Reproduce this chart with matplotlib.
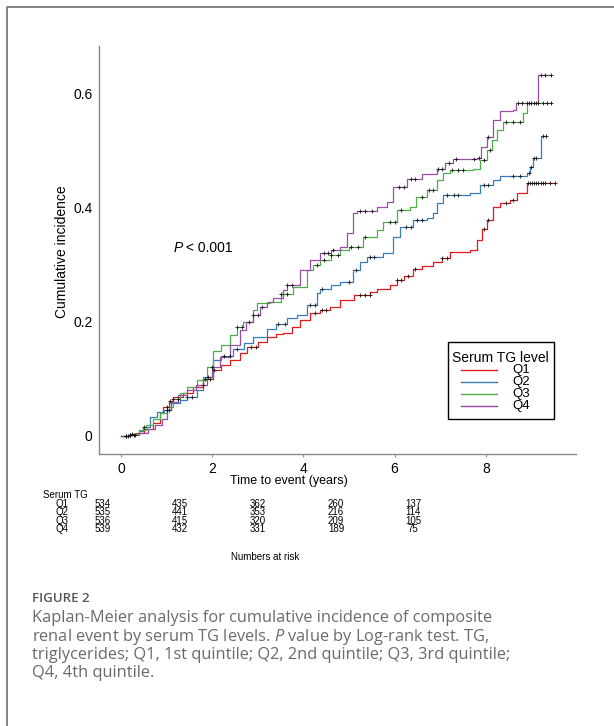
import numpy as np
import matplotlib
matplotlib.use("Agg")
import matplotlib.pyplot as plt
from matplotlib.lines import Line2D
from matplotlib.patches import Rectangle

plt.rcParams['font.family'] = ['Liberation Sans', 'DejaVu Sans']
plt.rcParams['mathtext.fontset'] = 'custom'
plt.rcParams['mathtext.it'] = 'Open Sans:italic'
plt.rcParams['mathtext.rm'] = 'Open Sans'

# ---------------- data ----------------
groups = ["Q1", "Q2", "Q3", "Q4"]
colors = ["#e41a1c", "#377eb8", "#4daf4a", "#984ea3"]

q1_t = [0, 0.15, 0.34, 0.5, 0.71, 0.85, 0.93, 1.05, 1.15, 1.35, 1.59, 1.8, 2.02, 2.2, 2.39, 2.6, 2.76, 3.0, 3.2,
        3.4, 3.56, 3.75, 3.93, 4.15, 4.36, 4.58, 4.8, 5.1, 5.46, 5.61, 5.9, 6.05, 6.2, 6.41, 6.6, 6.85, 7.05, 7.21,
        7.65, 7.8, 7.91, 8.02, 8.16, 8.31, 8.53, 8.68, 8.9, 9.52]
q1_v = [0, 0.002, 0.005, 0.012, 0.022, 0.04, 0.051, 0.062, 0.069, 0.076, 0.086, 0.1, 0.115, 0.124, 0.133, 0.146,
        0.156, 0.165, 0.174, 0.178, 0.18, 0.19, 0.203, 0.215, 0.22, 0.226, 0.238, 0.246, 0.252, 0.258, 0.264, 0.273,
        0.28, 0.293, 0.298, 0.305, 0.312, 0.322, 0.325, 0.343, 0.363, 0.378, 0.401, 0.407, 0.413, 0.425, 0.442, 0.442]

q2_t = [0, 0.2, 0.4, 0.49, 0.64, 0.8, 0.95, 1.1, 1.3, 1.44, 1.66, 1.8, 2.02, 2.2, 2.46, 2.7, 2.9, 3.2, 3.4, 3.63,
        3.85, 4.07, 4.29, 4.36, 4.6, 4.8, 5.09, 5.25, 5.39, 5.75, 5.97, 6.12, 6.41, 6.7, 6.85, 6.92, 7.07, 7.65,
        7.87, 8.16, 8.31, 8.9, 8.97, 9.04, 9.22, 9.33]
q2_v = [0, 0.003, 0.008, 0.016, 0.034, 0.042, 0.045, 0.058, 0.063, 0.068, 0.08, 0.104, 0.133, 0.14, 0.153, 0.163,
        0.174, 0.188, 0.196, 0.206, 0.212, 0.229, 0.25, 0.258, 0.264, 0.27, 0.29, 0.305, 0.314, 0.32, 0.349, 0.366,
        0.378, 0.381, 0.39, 0.407, 0.422, 0.425, 0.439, 0.448, 0.455, 0.46, 0.471, 0.486, 0.525, 0.525]

q3_t = [0, 0.2, 0.4, 0.55, 0.7, 0.85, 1.0, 1.15, 1.29, 1.45, 1.66, 1.88, 2.02, 2.2, 2.39, 2.55, 2.68, 2.9, 2.98,
        3.1, 3.27, 3.5, 3.78, 4.07, 4.2, 4.36, 4.6, 4.8, 5.0, 5.31, 5.61, 5.75, 6.05, 6.34, 6.48, 6.7, 6.92, 7.07,
        7.21, 7.73, 7.87, 8.02, 8.13, 8.24, 8.38, 8.82, 8.9, 9.42]
q3_v = [0, 0.003, 0.01, 0.02, 0.03, 0.04, 0.05, 0.065, 0.075, 0.085, 0.098, 0.121, 0.148, 0.16, 0.177, 0.19, 0.2,
        0.22, 0.232, 0.233, 0.235, 0.248, 0.261, 0.29, 0.3, 0.308, 0.316, 0.325, 0.33, 0.349, 0.36, 0.375, 0.395,
        0.401, 0.419, 0.43, 0.448, 0.46, 0.465, 0.468, 0.483, 0.5, 0.518, 0.535, 0.55, 0.565, 0.582, 0.582]

q4_t = [0, 0.2, 0.4, 0.6, 0.75, 0.9, 1.0, 1.1, 1.25, 1.45, 1.65, 1.88, 2.0, 2.17, 2.4, 2.61, 2.75, 2.9, 3.05, 3.2,
        3.34, 3.56, 3.63, 3.93, 4.14, 4.36, 4.6, 4.8, 4.95, 5.09, 5.17, 5.61, 5.83, 5.97, 6.27, 6.6, 6.92, 7.1,
        7.29, 7.8, 7.9, 8.02, 8.16, 8.31, 8.6, 8.67, 9.15, 9.42]
q4_v = [0, 0.002, 0.006, 0.012, 0.02, 0.03, 0.045, 0.06, 0.072, 0.08, 0.09, 0.104, 0.12, 0.139, 0.16, 0.185, 0.2,
        0.212, 0.225, 0.235, 0.241, 0.255, 0.264, 0.29, 0.308, 0.32, 0.325, 0.331, 0.355, 0.39, 0.394, 0.401, 0.41,
        0.436, 0.449, 0.458, 0.468, 0.478, 0.485, 0.486, 0.505, 0.524, 0.553, 0.569, 0.57, 0.582, 0.632, 0.632]

q1_cens = [0.12, 0.2, 0.28, 1.02, 1.08, 1.85, 1.95, 2.05, 2.85, 2.95, 4.25, 4.4, 4.5, 5.25, 5.35, 5.45, 6.05, 6.15,
           6.3, 6.45, 7.05, 7.15, 7.95, 8.05, 8.45, 8.6, 8.92, 8.98, 9.02, 9.06, 9.1, 9.15, 9.2, 9.25, 9.3, 9.4, 9.52]
q2_cens = [0.15, 0.5, 1.45, 1.55, 2.25, 2.4, 2.55, 3.45, 3.6, 4.15, 4.25, 4.4, 5.0, 5.15, 5.45, 5.55, 6.25, 6.35,
           6.5, 6.6, 7.15, 7.3, 7.4, 7.95, 8.05, 8.6, 8.75, 8.95, 9.0, 9.05, 9.1, 9.25, 9.33]
q3_cens = [0.1, 0.25, 1.15, 1.25, 2.55, 2.65, 2.8, 3.5, 3.65, 4.3, 4.45, 4.6, 4.75, 5.05, 5.2, 5.35, 5.9, 6.0, 6.15,
           6.6, 6.75, 6.85, 7.25, 7.4, 7.5, 7.95, 8.1, 8.45, 8.6, 8.75, 8.95, 9.05, 9.15, 9.25, 9.35, 9.42]
q4_cens = [0.1, 0.2, 0.3, 1.0, 1.05, 1.8, 1.9, 2.0, 2.9, 3.0, 3.1, 3.65, 3.75, 4.45, 4.55, 4.65, 5.25, 5.35, 5.5,
           6.1, 6.2, 6.35, 6.45, 6.95, 7.05, 7.2, 7.35, 7.75, 7.85, 8.05, 8.7, 8.8, 8.9, 9.0, 9.1, 9.2, 9.3, 9.42]

xticks = [0, 2, 4, 6, 8]
yticks = [0, 0.2, 0.4, 0.6]
ytick_labels = ["0", "0.2", "0.4", "0.6"]

risk_times = [0, 2, 4, 6, 8]
risk_q1 = [534, 435, 362, 260, 137]
risk_q2 = [535, 441, 353, 216, 114]
risk_q3 = [536, 415, 320, 209, 105]
risk_q4 = [539, 432, 331, 189, 75]

caption_title = "FIGURE 2"
caption_lines = [
    "Kaplan-Meier analysis for cumulative incidence of composite",
    r"renal event by serum TG levels. $P$ value by Log-rank test. TG,",
    "triglycerides; Q1, 1st quintile; Q2, 2nd quintile; Q3, 3rd quintile;",
    "Q4, 4th quintile.",
]

series = [(q1_t, q1_v, q1_cens), (q2_t, q2_v, q2_cens), (q3_t, q3_v, q3_cens), (q4_t, q4_v, q4_cens)]
risk = [risk_q1, risk_q2, risk_q3, risk_q4]

# ---------------- figure ----------------
W, H = 614, 726
fig = plt.figure(figsize=(W / 100, H / 100), dpi=100)
fig.patch.set_facecolor("white")

ax = fig.add_axes([99 / W, 1 - 454 / H, (576 - 99) / W, (454 - 46) / H])
for (t, v, c), col in zip(series, colors):
    t = np.asarray(t); v = np.asarray(v); c = np.asarray(c)
    ax.step(t, v, where="post", color=col, lw=0.9, zorder=2)
    idx = np.searchsorted(t, c, side="right") - 1
    ax.plot(c, v[idx], linestyle="none", marker="+", ms=3.2, mew=0.6, color="#111111", zorder=3)

ax.set_xlim(-0.482, 9.978)
ax.set_ylim(-0.0315, 0.6824)
ax.set_xticks(xticks)
ax.set_xticklabels([str(x) for x in xticks])
ax.set_yticks(yticks)
ax.set_yticklabels(ytick_labels)
for s in ["top", "right"]:
    ax.spines[s].set_visible(False)
for s in ["left", "bottom"]:
    ax.spines[s].set_color("#8a8a8a")
    ax.spines[s].set_linewidth(1.0)
ax.tick_params(axis="x", length=2.5, color="#8a8a8a", labelsize=10, pad=3.5)
ax.tick_params(axis="y", length=0, labelsize=10, pad=4.5)

# overlay in pixel coordinates
ov = fig.add_axes([0, 0, 1, 1], zorder=5)
ov.set_xlim(0, W)
ov.set_ylim(H, 0)
ov.axis("off")
ov.patch.set_alpha(0)

# frame
ov.add_line(Line2D([7, 7, W + 5], [H + 5, 7, 7], color="#7a7a7a", lw=1.3))

# y label
ov.text(62, 252, "Cumulative incidence", rotation=90, ha="center", va="center", fontsize=10)
# P value
ov.text(174, 248, "P", style="italic", ha="left", va="center", fontsize=10)
ov.text(186.5, 248, "< 0.001", ha="left", va="center", fontsize=10)
# x label
ov.text(289, 481, "Time to event (years)", ha="center", va="center", fontsize=9)

# legend (manual)
ov.add_patch(Rectangle((448, 342), 106, 77, facecolor="white", edgecolor="black", lw=1.0))
ov.text(500.5, 357.5, "Serum TG level", ha="center", va="center", fontsize=10)
leg_y = [369.5, 381.8, 394, 406.2]
for g, col, yy in zip(groups, colors, leg_y):
    ov.add_line(Line2D([461, 497], [yy, yy], color=col, lw=1.0))
    ov.text(521, yy, g, ha="center", va="center", fontsize=9.5)

# numbers at risk table
tfs = 7.0
ov.text(43, 495, "Serum TG", ha="left", va="center", fontsize=tfs)
row_y = [504.3, 512.4, 520.5, 528.6]
col_x = [103, 179.5, 258, 336, 413]
for g, vals, yy in zip(groups, risk, row_y):
    ov.text(62.5, yy, g, ha="center", va="center", fontsize=tfs)
    for xx, n in zip(col_x, vals):
        ov.text(xx, yy, str(n), ha="center", va="center", fontsize=tfs)
ov.text(265, 557, "Numbers at risk", ha="center", va="center", fontsize=tfs)

# caption
ov.text(32, 598, caption_title, ha="left", va="center", fontsize=9.5, color="#555555",
        family=["Open Sans", "DejaVu Sans"], weight="semibold")
for line, yy in zip(caption_lines, [618, 637, 655, 673]):
    ov.text(32, yy, line, ha="left", va="center", fontsize=11.8, color="#6a6a6a",
            family=["Open Sans", "DejaVu Sans"], math_fontfamily="custom")

fig.savefig("out.png", dpi=100, facecolor="white")
